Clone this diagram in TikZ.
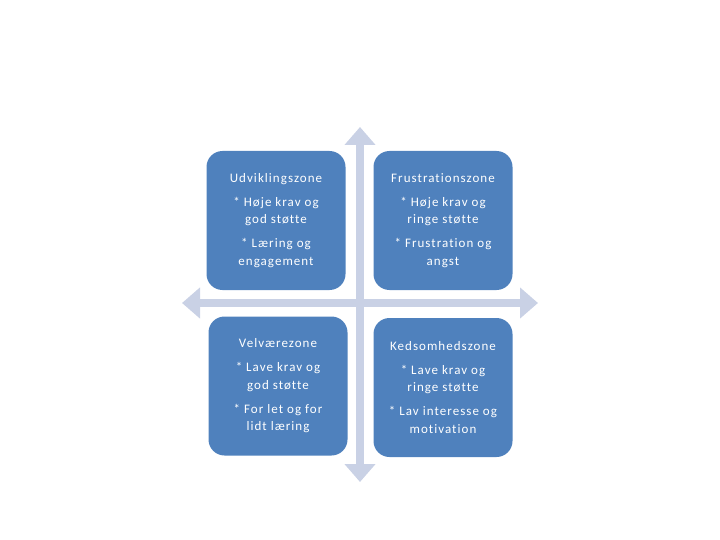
\documentclass[tikz,border=0pt]{standalone}
\usepackage{fontspec}
\setmainfont[LetterSpace=8,Ligatures={NoCommon}]{Carlito}
\usepackage{xcolor}
\usepackage{tikz}
\usetikzlibrary{arrows.meta}

\definecolor{zoneblue}{RGB}{79,129,189}
\definecolor{aksegray}{RGB}{201,209,229}

\tikzset{
	zone/.style={rounded corners=16pt, fill=zoneblue, text=white, align=center,
		minimum width=139pt, minimum height=139pt, inner sep=0pt,
		font=\fontsize{13}{17.5}\selectfont},
	akse/.style={line width=8pt, aksegray,
		{Triangle[width=30pt,length=18pt]}-{Triangle[width=30pt,length=18pt]}}
}

\begin{document}
\begin{tikzpicture}[x=1pt,y=-1pt]
		\useasboundingbox (0,0) rectangle (720,540);
		
		\coordinate (top) at (360,127);
		\coordinate (bund) at (360,482);
		\coordinate (venstre) at (182,303);
		\coordinate (hoejre) at (538,303);
		\draw [akse] (bund) -- (top);
		\draw [akse] (venstre) -- (hoejre);
		
		\node [zone] (udvikling) at (276,220.5) {Udviklingszone\\[6.5pt]* Høje krav og\\god støtte\\[6.5pt]* Læring og\\engagement};
		\node [zone] (frustration) at (443,220.5) {Frustrationszone\\[6.5pt]* Høje krav og\\ringe støtte\\[6.5pt]* Frustration og\\angst};
		\node [zone] (velvaere) at (278,386) {Velværezone\\[6.5pt]* Lave krav og\\god støtte\\[6.5pt]* For let og for\\lidt læring};
		\node [zone] (kedsomhed) at (443,387.5) {Kedsomhedszone\\[6.5pt]* Lave krav og\\ringe støtte\\[6.5pt]* Lav interesse og\\motivation};
\end{tikzpicture}
\end{document}
